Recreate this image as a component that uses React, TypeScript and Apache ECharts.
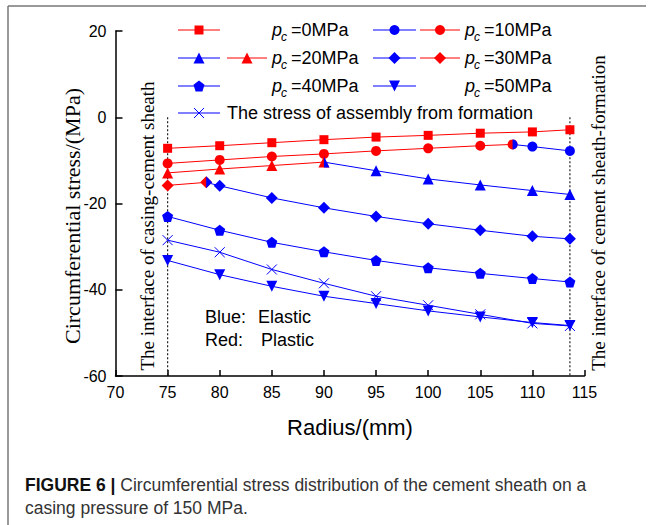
import React, { useEffect, useRef } from "react";
import * as echarts from "echarts";

// ---------- data ----------
const radius = [75, 80, 85, 90, 95, 100, 105, 110, 113.6];

const pc0Plastic = [-7.2, -6.6, -5.9, -5.2, -4.6, -4.2, -3.7, -3.4, -2.9];

const pc10PlasticX = [75, 80, 85, 90, 95, 100, 105, 108.1];
const pc10PlasticY = [-10.7, -9.9, -9.1, -8.5, -7.8, -7.2, -6.6, -6.3];
const pc10ElasticX = [108.1, 110, 113.6];
const pc10ElasticY = [-6.3, -6.8, -7.8];

const pc20PlasticX = [75, 80, 85, 90];
const pc20PlasticY = [-12.9, -12.0, -11.2, -10.4];
const pc20ElasticX = [90, 95, 100, 105, 110, 113.6];
const pc20ElasticY = [-10.4, -12.4, -14.3, -15.7, -17.0, -17.9];

const pc30PlasticX = [75, 78.7];
const pc30PlasticY = [-15.8, -15.1];
const pc30ElasticX = [78.7, 80, 85, 90, 95, 100, 105, 110, 113.6];
const pc30ElasticY = [-15.1, -15.9, -18.7, -21.0, -23.0, -24.7, -26.2, -27.6, -28.2];

const pc40Elastic = [-23.0, -26.2, -29.0, -31.2, -33.2, -34.9, -36.2, -37.4, -38.2];
const pc50Elastic = [-33.2, -36.5, -39.2, -41.5, -43.2, -44.9, -46.3, -47.6, -48.3];
const formationStress = [-28.5, -31.3, -35.3, -38.5, -41.5, -43.6, -45.7, -47.8, -48.4];

const interfaceRadii = [75, 113.6];
const interfaceSpan = [0, -60];

const xTicks = { min: 70, max: 115, interval: 5 };
const yTicks = { min: -60, max: 20, interval: 20 };

const legendLabels = ["=0MPa", "=10MPa", "=20MPa", "=30MPa", "=40MPa", "=50MPa"];
const formationLabel = "The stress of assembly from formation";

// ---------- styles ----------
const RED = "#ff0000";
const BLUE = "#0000ff";
const SANS = "'Liberation Sans', Arial, sans-serif";
const SERIF = "'Liberation Serif', 'Times New Roman', serif";

const PENTAGON = "path://M5,0 L10,3.8 L8.1,10 L1.9,10 L0,3.8 Z";
const TRI_DOWN = "path://M0,0 L10,0 L5,10 Z";
const CROSS = "path://M0,0 L10,10 M10,0 L0,10";
const HALF_CIRCLE = "path://M0,0 A10,10 0 0 1 0,20 Z";
const HALF_TRI = "path://M0,0 L5,10 L0,10 Z";
const HALF_DIAMOND = "path://M0,0 L5,5 L0,10 Z";

const zip = (xs: number[], ys: number[]) => xs.map((x, i) => [x, ys[i]]);

function lineSeries(name: string, data: any[], color: string, symbol: string, size: number, extra: any = {}) {
  return {
    name,
    type: "line",
    data,
    symbol,
    symbolSize: size,
    lineStyle: { color, width: 1 },
    itemStyle: { color },
    emphasis: { disabled: true },
    ...extra,
  };
}

function halfStart(xs: number[], ys: number[], sym: string, w: number, h: number) {
  const d: any[] = zip(xs, ys);
  d[0] = { value: d[0], symbol: sym, symbolSize: [w, h], symbolOffset: [w / 2, 0] };
  return d;
}

// ---------- legend graphics ----------
function marker(kind: string, cx: number, cy: number, color: string): any {
  const s = 5.5;
  switch (kind) {
    case "square":
      return { type: "rect", shape: { x: cx - 4.5, y: cy - 4.5, width: 9, height: 9 }, style: { fill: color } };
    case "circle":
      return { type: "circle", shape: { cx, cy, r: 5 }, style: { fill: color } };
    case "triangle":
      return { type: "polygon", shape: { points: [[cx, cy - s], [cx + s, cy + s], [cx - s, cy + s]] }, style: { fill: color } };
    case "diamond":
      return { type: "polygon", shape: { points: [[cx, cy - 6], [cx + 6, cy], [cx, cy + 6], [cx - 6, cy]] }, style: { fill: color } };
    case "pentagon":
      return {
        type: "polygon",
        shape: { points: [[cx, cy - 5.5], [cx + 5.5, cy - 1.3], [cx + 3.4, cy + 5.5], [cx - 3.4, cy + 5.5], [cx - 5.5, cy - 1.3]] },
        style: { fill: color },
      };
    case "down":
      return { type: "polygon", shape: { points: [[cx - s, cy - s], [cx + s, cy - s], [cx, cy + s]] }, style: { fill: color } };
    case "cross":
      return {
        type: "group",
        children: [
          { type: "line", shape: { x1: cx - 5, y1: cy - 5, x2: cx + 5, y2: cy + 5 }, style: { stroke: color, lineWidth: 1 } },
          { type: "line", shape: { x1: cx + 5, y1: cy - 5, x2: cx - 5, y2: cy + 5 }, style: { stroke: color, lineWidth: 1 } },
        ],
      };
  }
  return null;
}

function legendSym(x1: number, x2: number, y: number, kind: string, color: string): any[] {
  return [
    { type: "line", shape: { x1, y1: y, x2, y2: y }, style: { stroke: color, lineWidth: 1 } },
    marker(kind, (x1 + x2) / 2, y, color),
  ];
}

function pcLabel(x: number, y: number, rest: string): any[] {
  return [
    { type: "text", x, y, style: { text: "p", font: `italic 18px ${SANS}`, fill: "#000", verticalAlign: "middle" } },
    { type: "text", x: x + 9, y: y + 7, style: { text: "c", font: `italic 12px ${SANS}`, fill: "#000", verticalAlign: "middle" } },
    { type: "text", x: x + 19, y, style: { text: rest, font: `18px ${SANS}`, fill: "#000", verticalAlign: "middle" } },
  ];
}

export default function App() {
  const ref = useRef<HTMLDivElement>(null);

  useEffect(() => {
    const chart = echarts.init(ref.current!, null, { renderer: "svg" });

    const rows = [30, 58, 86, 113];
    const A1 = 178, A2 = 220, B1 = 227, B2 = 267, C1 = 373, C2 = 416, D1 = 420, D2 = 460;
    const legend: any[] = [
      ...legendSym(A1, A2, rows[0], "square", RED),
      ...pcLabel(272, rows[0], legendLabels[0]),
      ...legendSym(C1, C2, rows[0], "circle", BLUE),
      ...legendSym(D1, D2, rows[0], "circle", RED),
      ...pcLabel(465, rows[0], legendLabels[1]),
      ...legendSym(A1, A2, rows[1], "triangle", BLUE),
      ...legendSym(B1, B2, rows[1], "triangle", RED),
      ...pcLabel(272, rows[1], legendLabels[2]),
      ...legendSym(C1, C2, rows[1], "diamond", BLUE),
      ...legendSym(D1, D2, rows[1], "diamond", RED),
      ...pcLabel(465, rows[1], legendLabels[3]),
      ...legendSym(A1, A2, rows[2], "pentagon", BLUE),
      ...pcLabel(272, rows[2], legendLabels[4]),
      ...legendSym(C1, C2, rows[2], "down", BLUE),
      ...pcLabel(465, rows[2], legendLabels[5]),
      ...legendSym(A1, A2, rows[3], "cross", BLUE),
      { type: "text", x: 227, y: rows[3], style: { text: formationLabel, font: `18px ${SANS}`, fill: "#000", verticalAlign: "middle" } },
    ];

    const texts: any[] = [
      // frame
      { type: "line", shape: { x1: 8, y1: 6, x2: 646, y2: 6 }, style: { stroke: "#777", lineWidth: 1.5 } },
      { type: "line", shape: { x1: 8, y1: 6, x2: 8, y2: 525 }, style: { stroke: "#777", lineWidth: 1.5 } },
      {
        type: "text", x: 72, y: 216, rotation: Math.PI / 2,
        style: { text: "Circumferential stress/(MPa)", font: `22px ${SERIF}`, fill: "#000", align: "center", verticalAlign: "middle" },
      },
      {
        type: "text", x: 147, y: 226, rotation: Math.PI / 2,
        style: { text: "The interface of casing-cement sheath", font: `19px ${SERIF}`, fill: "#000", align: "center", verticalAlign: "middle" },
      },
      {
        type: "text", x: 598, y: 213, rotation: Math.PI / 2,
        style: { text: "The interface of cement sheath-formation", font: `19px ${SERIF}`, fill: "#000", align: "center", verticalAlign: "middle" },
      },
      { type: "text", x: 350, y: 427, style: { text: "Radius/(mm)", font: `22px ${SANS}`, fill: "#000", align: "center", verticalAlign: "middle" } },
      { type: "text", x: 205, y: 317, style: { text: "Blue:", font: `18px ${SANS}`, fill: "#000", verticalAlign: "middle" } },
      { type: "text", x: 258, y: 317, style: { text: "Elastic", font: `18px ${SANS}`, fill: "#000", verticalAlign: "middle" } },
      { type: "text", x: 205, y: 340, style: { text: "Red:", font: `18px ${SANS}`, fill: "#000", verticalAlign: "middle" } },
      { type: "text", x: 261, y: 340, style: { text: "Plastic", font: `18px ${SANS}`, fill: "#000", verticalAlign: "middle" } },
      {
        type: "text", x: 25, y: 485,
        style: {
          text: "{b|FIGURE 6 | }{r|Circumferential stress distribution of the cement sheath on a}",
          verticalAlign: "middle",
          rich: {
            b: { font: `bold 17.5px ${SANS}`, fill: "#111" },
            r: { font: `17.5px ${SANS}`, fill: "#333" },
          },
        },
      },
      { type: "text", x: 25, y: 508, style: { text: "casing pressure of 150 MPa.", font: `17.5px ${SANS}`, fill: "#333", verticalAlign: "middle" } },
    ];

    const dotted = interfaceRadii.map((r, i) => ({
      name: "interface" + i,
      type: "line",
      data: interfaceSpan.map((v) => [r, v]),
      symbol: "none",
      lineStyle: { color: "#222", width: 1.2, type: [2, 2] },
      emphasis: { disabled: true },
      z: 1,
    }));

    chart.setOption({
      animation: false,
      grid: { left: 115.5, right: 66.5, top: 31, bottom: 149 },
      xAxis: {
        type: "value",
        ...xTicks,
        axisLine: { onZero: false, lineStyle: { color: "#000", width: 1.5 } },
        axisTick: { inside: true, length: 6, lineStyle: { color: "#000", width: 1.5 } },
        axisLabel: { color: "#000", fontSize: 16, fontFamily: SANS, margin: 8 },
        splitLine: { show: false },
      },
      yAxis: {
        type: "value",
        ...yTicks,
        axisLine: { show: true, onZero: false, lineStyle: { color: "#000", width: 1.5 } },
        axisTick: { show: true, inside: true, length: 7, lineStyle: { color: "#000", width: 1.5 } },
        axisLabel: { color: "#000", fontSize: 16, fontFamily: SANS, margin: 9 },
        splitLine: { show: false },
      },
      graphic: [...texts, ...legend],
      series: [
        ...dotted,
        lineSeries("pc0 plastic", zip(radius, pc0Plastic), RED, "rect", 9),
        lineSeries("pc10 plastic", zip(pc10PlasticX, pc10PlasticY), RED, "circle", 10),
        lineSeries("pc20 plastic", zip(pc20PlasticX, pc20PlasticY), RED, "triangle", 11),
        lineSeries("pc30 plastic", zip(pc30PlasticX, pc30PlasticY), RED, "diamond", 12),
        lineSeries("pc10 elastic", halfStart(pc10ElasticX, pc10ElasticY, HALF_CIRCLE, 5, 10), BLUE, "circle", 10),
        lineSeries("pc20 elastic", halfStart(pc20ElasticX, pc20ElasticY, HALF_TRI, 5.5, 11), BLUE, "triangle", 11),
        lineSeries("pc30 elastic", halfStart(pc30ElasticX, pc30ElasticY, HALF_DIAMOND, 6, 12), BLUE, "diamond", 12),
        lineSeries("pc40 elastic", zip(radius, pc40Elastic), BLUE, PENTAGON, 11),
        lineSeries("pc50 elastic", zip(radius, pc50Elastic), BLUE, TRI_DOWN, 11),
        lineSeries("formation", zip(radius, formationStress), BLUE, CROSS, 10, {
          itemStyle: { color: "rgba(0,0,0,0)", borderColor: BLUE, borderWidth: 1 },
        }),
      ],
    });

    return () => chart.dispose();
  }, []);

  return <div ref={ref} style={{ position: "absolute", left: 0, top: 0, width: 651, height: 525, background: "#fff" }} />;
}
